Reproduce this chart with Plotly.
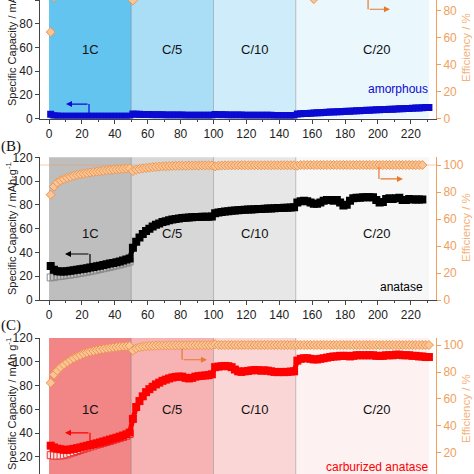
import plotly.graph_objects as go

# ---------------- data ----------------
cycles = list(range(1, 232, 2))        # cycles for panels A and C
cycles_b = list(range(1, 228, 2))      # cycles for panel B
cycles_1c = list(range(1, 50, 2))

rate_labels = ["1C", "C/5", "C/10", "C/20"]
rate_starts = [0, 50, 100, 150]
rate_ends = [50, 100, 150, 231]
rate_label_x = [25, 75, 125, 199]

# (A) amorphous
cap_a = [3.5, 2.4, 2.1, 2.0, 1.9, 1.9, 1.8, 1.8, 1.8, 1.8, 1.8, 1.8, 1.8, 1.8, 1.8, 1.8, 1.8, 1.8, 1.8, 1.8, 1.8, 1.8, 1.8, 1.9, 1.9,
         3.8, 3.6, 3.5, 3.4, 3.3, 3.3, 3.2, 3.2, 3.1, 3.1, 3.0, 3.0, 3.0, 2.9, 2.9, 2.9, 2.8, 2.8, 2.8, 2.8, 2.7, 2.7, 2.7, 2.7, 2.7,
         3.3, 3.2, 3.1, 3.1, 3.0, 3.0, 2.9, 2.9, 2.9, 2.8, 2.8, 2.8, 2.8, 2.7, 2.7, 2.7, 2.7, 2.7, 2.6, 2.6, 2.6, 2.6, 2.6, 2.6, 2.6,
         3.8, 4.0, 4.2, 4.3, 4.5, 4.6, 4.8, 4.9, 5.1, 5.2, 5.4, 5.5, 5.7, 5.8, 5.9, 6.1, 6.2, 6.4, 6.5, 6.6,
         6.8, 6.9, 7.0, 7.2, 7.3, 7.4, 7.5, 7.7, 7.8, 7.9, 8.0, 8.2, 8.3, 8.4, 8.5, 8.7, 8.8, 8.9, 9.0, 9.2, 9.3]
eff_a = [64, 90, 93, 95, 96, 97, 97.5, 98, 98, 98.5, 98.5, 99, 99, 99, 99, 99, 99.5, 99.5, 99.5, 99.5, 99.5, 99.5, 99.5, 99.5, 99.5,
         87.5, 96, 98, 99, 99, 99.5, 99.5, 99.5, 99.5, 99.5, 99.5, 99.5, 99.5, 99.5, 99.5, 99.5, 99.5, 99.5, 99.5, 99.5, 99.5, 99.5, 99.5, 99.5, 99.5,
         97, 99, 99.5, 99.5, 99.5, 99.5, 99.5, 99.5, 99.5, 99.5, 99.5, 99.5, 99.5, 99.5, 99.5, 99.5, 99.5, 99.5, 99.5, 99.5, 99.5, 99.5, 99.5, 99.5, 99.5,
         97, 98, 98, 98, 98, 88.5, 98, 98.5, 99, 99, 99, 99, 99, 99, 99, 99, 99, 99, 99, 99,
         99, 99, 99, 99, 99, 99, 99, 99, 99, 99, 99, 99, 99, 99, 99, 99, 99, 99, 99, 99, 99]

# (B) anatase
cap_b = [28.5, 25.5, 24.2, 24.0, 24.0, 24.2, 24.5, 25.0, 25.4, 25.8, 26.3, 26.8, 27.3, 27.8, 28.3, 28.8, 29.4, 30.0, 30.6, 31.2, 31.8, 32.4, 33.2, 34.0, 35.0,
         44, 49, 52.5, 55.5, 58, 60, 61.8, 63.2, 64.4, 65.5, 66.3, 67, 67.6, 68.1, 68.5, 68.9, 69.2, 69.4, 69.6, 69.8, 69.9, 70, 70, 70.1, 70.2,
         73, 73.6, 74, 74.4, 74.7, 75, 75.2, 75.4, 75.6, 75.8, 76, 76.2, 76.3, 76.5, 76.6, 76.8, 76.9, 77, 77.1, 77.3, 77.4, 77.5, 77.6, 77.8, 78,
         82, 83, 83.5, 83, 82, 81, 81, 82, 83.5, 84, 84, 83.5, 84, 82, 79.5, 80, 83.5, 85.5, 86, 86,
         86.5, 86.5, 86.5, 86.5, 84, 82, 82.5, 85, 85.5, 85, 85.5, 86, 84, 84, 85, 84.5, 84.5, 84.5, 84.5]
cap_b_open = [19, 19.5, 20, 20.3, 20.6, 21, 21.4, 21.8, 22.3, 22.8, 23.3, 23.8, 24.3, 24.9, 25.5, 26.1, 26.7, 27.3, 27.9, 28.5,
              29.2, 29.9, 30.6, 31.4, 32.3]
eff_b = [78, 84, 87, 88.5, 89.5, 90.5, 91.3, 92, 92.6, 93.1, 93.6, 94, 94.4, 94.8, 95.1, 95.4, 95.7, 96, 96.3, 96.5, 96.7, 96.9, 97.1, 97.3, 97.5,
         95.5, 96.5, 97, 97.5, 97.8, 98.1, 98.4, 98.6, 98.8, 99, 99.1, 99.2, 99.3, 99.4, 99.5, 99.5, 99.5, 99.6, 99.6, 99.6, 99.6, 99.7, 99.7, 99.7, 99.7,
         99, 99.5, 99.6, 99.7, 99.7, 99.7, 99.8, 99.8, 99.8, 99.8, 99.8, 99.8, 99.8, 99.8, 99.8, 99.8, 99.8, 99.8, 99.8, 99.8, 99.8, 99.8, 99.8, 99.8, 99.8,
         99.5, 100, 100, 100, 100, 100, 100, 100, 100, 100, 100, 100, 100, 100, 100, 100, 100, 100, 100, 100,
         100, 100, 100, 100, 100, 100, 100, 100, 100, 100, 100, 100, 100, 100, 100, 100, 100, 100, 100]

# (C) carburized anatase
cap_c = [29.5, 28.0, 27.0, 26.5, 26.0, 26.0, 26.3, 26.8, 27.4, 28.0, 28.7, 29.4, 30.1, 30.8, 31.5, 32.2, 33.0, 33.8, 34.6, 35.4, 36.2, 37.1, 38.0, 39.0, 40.5,
         52, 62, 67, 71, 74.5, 77, 79, 81, 82.5, 84, 85, 86, 86.8, 87.3, 87.6, 87.5, 86.5, 86, 86.5, 87.5, 88, 88.3, 88.5, 88.8, 89.5,
         95.5, 96, 96.3, 96.5, 96.3, 95.5, 93.5, 92, 91.5, 92, 92.3, 92.8, 93, 93, 92.5, 92.8, 92.5, 92, 91.5, 91.3, 91.5, 91.3, 91.5, 91.8, 92,
         101, 102.5, 103, 103, 102.5, 102, 102, 102.5, 103, 103.5, 104, 104.5, 104.5, 105, 105, 105, 104.5, 105, 105.5, 105.5,
         105.5, 105.5, 105.5, 105.5, 105, 105, 105, 105.5, 105.5, 105.5, 106, 106, 105.5, 105.5, 105.5, 105, 105, 104.5, 104.5, 104, 104]
cap_c_open = [21.5, 21.2, 21.2, 21.3, 21.5, 22.3, 23.2, 24.1, 25.0, 25.9, 26.8, 27.7, 28.6, 29.5, 30.3, 31.0, 31.8, 32.6, 33.4, 34.2,
              35.0, 35.9, 36.8, 37.8, 39.3]
eff_c = [72, 78, 81, 83.5, 85.5, 87.3, 88.8, 90.1, 91.3, 92.5, 93.5, 94.3, 95, 95.6, 96.1, 96.6, 97, 97.4, 97.8, 98.1, 98.4, 98.7, 98.9, 99.1, 99.3,
         96, 97.5, 98.3, 98.8, 99.1, 99.3, 99.4, 99.5, 99.6, 99.6, 99.7, 99.7, 99.7, 99.8, 99.8, 99.8, 99.8, 99.8, 99.9, 99.9, 99.9, 99.9, 99.9, 99.9, 100,
         100.5, 100, 100, 100, 100, 100, 100, 100, 100, 100, 100, 100, 100, 100, 100, 100, 100, 100, 100, 100, 100, 100, 100, 100, 100,
         100, 100, 100, 100, 100, 100, 100, 100, 100, 100, 100, 100, 100, 100, 100, 100, 100, 100, 100, 100,
         100, 100, 100, 100, 100, 100, 100, 100, 100, 100, 100, 100, 100, 100, 100, 100, 100, 100, 100, 100, 100]

sample_names = ["amorphous", "anatase", "carburized anatase"]
cap_ticks = [0, 20, 40, 60, 80, 100, 120]
eff_ticks = [0, 20, 40, 60, 80, 100]
x_ticks = list(range(0, 221, 20))

# ---------------- style ----------------
W = H = 474
ML, MR = 40, 38
FONT = "Liberation Sans, Arial, sans-serif"
ORANGE = "#F0A05C"
ORANGE_T = "#F5B27A"
ARROW_OR = "#E8792B"
shade = {
    1: ["#62C4EF", "#AADEF6", "#CFECFA", "#EAF7FD"],
    2: ["#BEBEBE", "#D7D7D7", "#E7E7E7", "#F7F7F7"],
    3: ["#F28585", "#F7B3B3", "#FAD6D6", "#FDF1F1"],
}
cap_color = {1: "#0A0AD2", 2: "#000000", 3: "#FF0000"}


def PX(px):
    return (px - ML) / (W - ML - MR)


def PY(py):
    return (H - py) / H


fig = go.Figure()

eff_style = dict(symbol="diamond", size=7, color="#F9C597", line=dict(color="#EE964E", width=1))

# panel A
fig.add_trace(go.Scatter(x=cycles[:len(cap_a)], y=cap_a, mode="markers", xaxis="x", yaxis="y",
                         marker=dict(symbol="square", size=7, color=cap_color[1])))
fig.add_trace(go.Scatter(x=cycles[:len(eff_a)], y=eff_a, mode="markers", xaxis="x", yaxis="y4", marker=eff_style))
# panel B
fig.add_trace(go.Scatter(x=cycles_1c, y=cap_b_open, mode="markers", xaxis="x2", yaxis="y2",
                         marker=dict(symbol="square-open", size=7, color="#8A8A8A", line=dict(width=1))))
fig.add_trace(go.Scatter(x=cycles_b[:len(cap_b)], y=cap_b, mode="markers+lines", xaxis="x2", yaxis="y2",
                         line=dict(color=cap_color[2], width=5),
                         marker=dict(symbol="square", size=8, color=cap_color[2])))
fig.add_trace(go.Scatter(x=cycles_b[:len(eff_b)], y=eff_b, mode="markers", xaxis="x2", yaxis="y5", marker=eff_style))
# panel C
fig.add_trace(go.Scatter(x=cycles_1c, y=cap_c_open, mode="markers", xaxis="x3", yaxis="y3",
                         marker=dict(symbol="square", size=7, color="#FBE3E3", line=dict(color="#E83030", width=1))))
fig.add_trace(go.Scatter(x=cycles[:len(cap_c)], y=cap_c, mode="markers+lines", xaxis="x3", yaxis="y3",
                         line=dict(color=cap_color[3], width=5),
                         marker=dict(symbol="square", size=8, color=cap_color[3])))
fig.add_trace(go.Scatter(x=cycles[:len(eff_c)], y=eff_c, mode="markers", xaxis="x3", yaxis="y6", marker=eff_style))

# domains in pixels
doms = {1: (0, 118.5), 2: (157.3, 300), 3: (338, 474)}
cap_ranges = {1: [0, 100], 2: [0, 120], 3: [5.7, 120]}
eff_ranges = {1: [0, 87.8], 2: [0, 105.7], 3: [4.4, 105.2]}
xr = [-5.5, 235.3]

layout = dict(
    width=W, height=H, margin=dict(l=ML, r=MR, t=0, b=0, autoexpand=False),
    paper_bgcolor="white", plot_bgcolor="white", showlegend=False, hovermode=False,
    font=dict(family=FONT, size=12, color="#222"),
)
for i in (1, 2, 3):
    top, bot = doms[i]
    dom = [PY(bot), PY(top)]
    xs = "" if i == 1 else str(i)
    layout["xaxis" + xs] = dict(
        domain=[0, 1], range=xr, anchor="y" + xs, showgrid=False, zeroline=False, automargin=False,
        showline=(i != 3), linecolor="#444", linewidth=1,
        ticks="outside", ticklen=4, tickcolor="#444", tickvals=x_ticks,
        minor=dict(ticks="outside", ticklen=2, dtick=10, tick0=0, tickcolor="#444"),
        showticklabels=(i != 3), tickfont=dict(size=12, color="#222"),
    )
    layout["yaxis" + xs] = dict(
        domain=dom, range=cap_ranges[i], anchor="x" + xs, showgrid=False, zeroline=False, automargin=False,
        showline=True, linecolor="#444", linewidth=1, ticks="outside", ticklen=4, tickcolor="#444",
        tickvals=cap_ticks, tickfont=dict(size=12, color="#222"),
    )
    layout["yaxis" + str(i + 3)] = dict(
        overlaying="y" + xs, side="right", anchor="x" + xs, range=eff_ranges[i], automargin=False,
        showgrid=False, zeroline=False, showline=True, linecolor=ORANGE, linewidth=1,
        ticks="outside", ticklen=4, tickcolor=ORANGE, tickvals=eff_ticks,
        tickfont=dict(size=12, color=ORANGE),
    )
# top mirror ticks for B and C
for i, ax in ((2, "xaxis4"), (3, "xaxis5")):
    layout[ax] = dict(overlaying="x" + str(i), side="top", anchor="y" + str(i), range=xr, automargin=False,
                      showgrid=False, zeroline=False, showline=True, linecolor="#444",
                      ticks="inside", ticklen=4, tickcolor="#444", tickvals=x_ticks,
                      minor=dict(ticks="inside", ticklen=2, dtick=10, tick0=0, tickcolor="#444"),
                      showticklabels=False)

fig.update_layout(**layout)

shapes = []
annotations = []
for i in (1, 2, 3):
    xs = "" if i == 1 else str(i)
    for k in range(4):
        shapes.append(dict(type="rect", xref="x" + xs, yref="y" + xs + " domain",
                           x0=rate_starts[k], x1=rate_ends[k], y0=0, y1=1, layer="below",
                           fillcolor=shade[i][k], line=dict(width=0)))
    for b in rate_starts[1:]:
        shapes.append(dict(type="line", xref="x" + xs, yref="y" + xs + " domain", x0=b, x1=b, y0=0, y1=1,
                           layer="below", line=dict(color="rgba(90,90,90,0.45)", width=0.8)))
    ylab = {1: 58.6, 2: 56, 3: 59.7}[i]
    for k in range(4):
        annotations.append(dict(xref="x" + xs, yref="y" + xs, x=rate_label_x[k], y=ylab, text=rate_labels[k],
                                showarrow=False, font=dict(size=13, color="#111")))

# faint 100% line in panel B
shapes.append(dict(type="line", xref="x2 domain", yref="y5", x0=0, x1=1, y0=100, y1=100, layer="below",
                   line=dict(color="rgba(240,150,90,0.6)", width=0.8)))

# arrows: (axis suffix, x vertical, y start, y end, x tip, color)
arrows = [
    ("", 24.3, 2.95, 12.2, 10.3, cap_color[1]),
    ("", 194, 100, 92.2, 207.3, ARROW_OR),
    ("2", 24.9, 29.4, 38.7, 9.7, "#000000"),
    ("2", 200.6, 111.9, 101.8, 215.2, ARROW_OR),
    ("3", 24.9, 32.8, 40.3, 9.7, "#FF0000"),
    ("3", 80.9, 110.9, 101.7, 96, ARROW_OR),
]
for xs, xv, y0, y1, xt, col in arrows:
    shapes.append(dict(type="line", xref="x" + xs, yref="y" + xs, x0=xv, x1=xv, y0=y0, y1=y1,
                       line=dict(color=col, width=1.2)))
    annotations.append(dict(xref="x" + xs, yref="y" + xs, axref="x" + xs, ayref="y" + xs,
                            x=xt, y=y1, ax=xv, ay=y1, text="", showarrow=True,
                            arrowhead=2, arrowsize=1, arrowwidth=1.2, arrowcolor=col))

# sample names
annotations += [
    dict(xref="x", yref="y", x=231.5, y=25, text=sample_names[0], xanchor="right", showarrow=False,
         font=dict(size=12, color=cap_color[1])),
    dict(xref="x2", yref="y2", x=228.5, y=11.2, text=sample_names[1], xanchor="right", showarrow=False,
         font=dict(size=12, color="#000")),
    dict(xref="x3", yref="y3", x=231.5, y=11.5, text=sample_names[2], xanchor="right", showarrow=False,
         font=dict(size=12, color="#FF0000")),
]

# panel letters
for lab, py in (("(B)", 146), ("(C)", 325)):
    annotations.append(dict(xref="paper", yref="paper", x=PX(-1), y=PY(py), xanchor="left", yanchor="middle",
                            text=lab, showarrow=False,
                            font=dict(family="Liberation Serif, Times New Roman, serif", size=15, color="#111")))

# axis titles
cap_titles = ["Specific Capacity / mAh·g<sup>-1</sup>", "Specific Capacity / mAh·g<sup>-1</sup>",
              "Specific Capacity / mAh g<sup>-1</sup>"]
for t, py in zip(cap_titles, (40, 229, 404)):
    annotations.append(dict(xref="paper", yref="paper", x=PX(11), y=PY(py), xanchor="center", yanchor="middle",
                            text=t, textangle=-90, showarrow=False, font=dict(size=11, color="#222")))
for py in (48, 228, 409):
    annotations.append(dict(xref="paper", yref="paper", x=PX(466), y=PY(py), xanchor="center", yanchor="middle",
                            text="Efficiency / %", textangle=-90,
                            showarrow=False, font=dict(size=11.5, color=ORANGE_T)))

fig.update_layout(shapes=shapes, annotations=annotations)
fig.write_html("out.html", config={"displayModeBar": False},
               post_script="document.body.style.margin='0';document.body.style.overflow='hidden';")
